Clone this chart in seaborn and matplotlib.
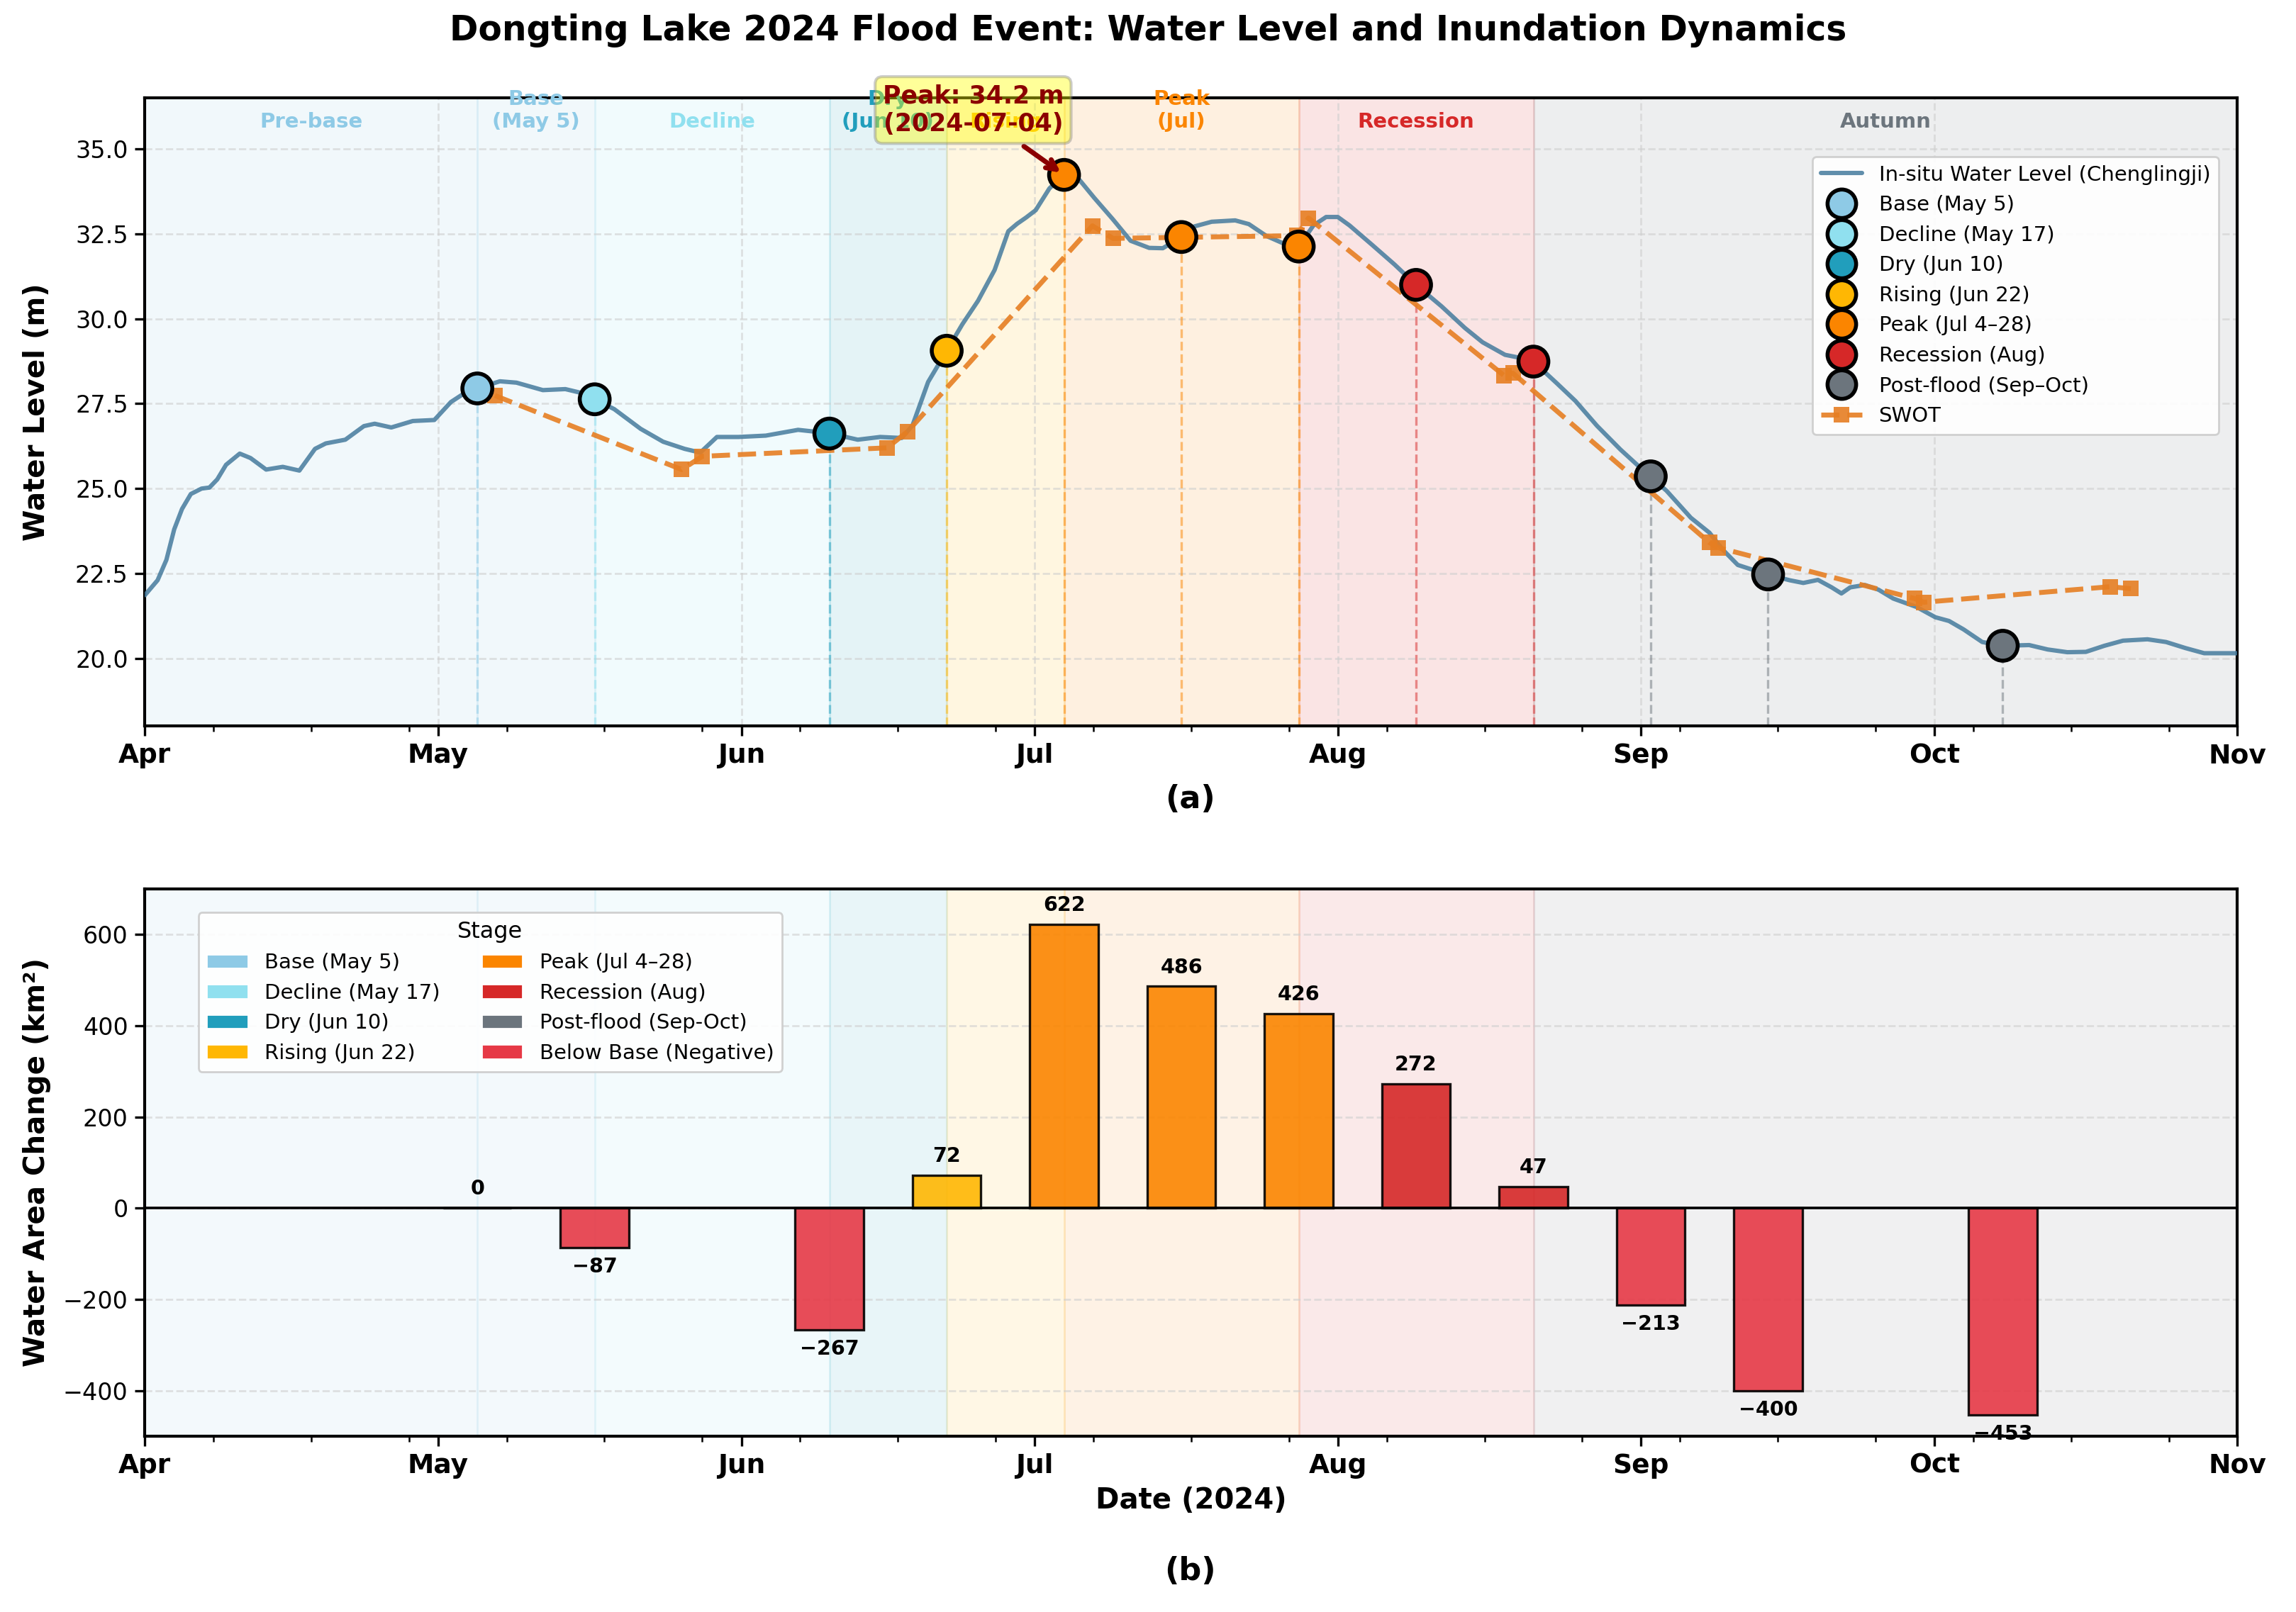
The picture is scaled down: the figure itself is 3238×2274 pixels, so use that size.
import numpy as np
import pandas as pd
import matplotlib
matplotlib.use('Agg')
import matplotlib.pyplot as plt
import matplotlib.dates as mdates
import matplotlib.ticker as mticker
from matplotlib.lines import Line2D
from matplotlib.patches import Patch
import seaborn as sns

sns.set_theme(style='ticks')
plt.rcParams['font.family'] = ['DejaVu Sans']
plt.rcParams.update({'text.color': 'black', 'axes.labelcolor': 'black',
                     'xtick.color': 'black', 'ytick.color': 'black',
                     'axes.edgecolor': 'black'})

START = pd.Timestamp('2024-04-01')
END = pd.Timestamp('2024-11-01')

# ---------------- data ----------------
# In-situ water level at Chenglingji (days since 2024-04-01, metres)
insitu_day = [0, 1.3, 2.2, 3.0, 3.8, 4.7, 5.8, 6.6, 7.4, 8.3, 9.7, 10.8, 12.4, 14.1, 15.8,
              17.4, 18.5, 20.5, 22.4, 23.5, 25.2, 27.4, 29.6, 31.3, 33.0, 34.0, 36.3, 38.0,
              40.7, 43.0, 44.6, 46.0, 48.0, 50.7, 53.0, 55.2, 56.8, 58.5, 60.7, 63.5, 66.8,
              70.0, 72.9, 75.2, 77.4, 78.5, 80.1, 82.0, 83.6, 85.2, 86.9, 88.3, 89.2, 90.1,
              91.1, 92.5, 94.0, 95.5, 97.1, 99.0, 100.8, 102.7, 104.1, 106.0, 107.3, 109.1,
              111.5, 112.9, 114.7, 116.6, 118.0, 119.5, 120.8, 122.0, 123.2, 125.5, 127.8,
              130.0, 132.6, 135.0, 136.8, 139.1, 141.0, 142.0, 144.4, 146.3, 148.5, 150.9,
              153.9, 155.6, 158.1, 160.0, 161.4, 162.9, 165.9, 168.2, 169.6, 171.1, 172.5,
              173.5, 174.4, 175.9, 177.3, 178.8, 181.2, 183.1, 184.5, 186.0, 187.9, 190.0,
              192.7, 194.6, 196.6, 198.5, 200.4, 202.3, 204.8, 206.7, 208.7, 210.6, 214.0]
insitu_level = [21.86, 22.3, 22.9, 23.8, 24.4, 24.84, 25.0, 25.03, 25.27, 25.7, 26.03, 25.9,
                25.56, 25.64, 25.53, 26.17, 26.33, 26.44, 26.84, 26.91, 26.8, 26.99, 27.02,
                27.55, 27.87, 27.95, 28.16, 28.12, 27.9, 27.93, 27.82, 27.63, 27.34, 26.76,
                26.38, 26.17, 26.06, 26.52, 26.52, 26.56, 26.73, 26.63, 26.44, 26.52, 26.49,
                26.86, 28.14, 29.06, 29.84, 30.53, 31.44, 32.58, 32.8, 32.98, 33.2, 33.84,
                34.26, 34.12, 33.56, 32.93, 32.3, 32.09, 32.08, 32.41, 32.72, 32.86, 32.9,
                32.79, 32.44, 32.2, 32.13, 32.75, 33.0, 33.0, 32.75, 32.18, 31.6, 31.0, 30.37,
                29.73, 29.31, 28.94, 28.83, 28.74, 28.1, 27.58, 26.85, 26.15, 25.36, 24.94,
                24.14, 23.7, 23.19, 22.75, 22.47, 22.3, 22.22, 22.31, 22.09, 21.91, 22.09,
                22.16, 22.02, 21.76, 21.51, 21.21, 21.1, 20.85, 20.48, 20.37, 20.39, 20.26,
                20.18, 20.19, 20.37, 20.52, 20.56, 20.48, 20.3, 20.15, 20.15]

# SWOT water level (days since 2024-04-01, metres)
swot_day = [35.8, 54.9, 57.0, 75.9, 78.0, 96.9, 99.0, 117.8, 119.0, 139.0, 139.9,
            160.0, 160.9, 181.0, 181.9, 201.0, 203.1]
swot_level = [27.74, 25.56, 25.95, 26.2, 26.68, 32.74, 32.37, 32.45, 32.97, 28.33, 28.4,
              23.41, 23.26, 21.76, 21.65, 22.11, 22.05]

# Stage observations
stage_dates = ['2024-05-05', '2024-05-17', '2024-06-10', '2024-06-22', '2024-07-04',
               '2024-07-16', '2024-07-28', '2024-08-09', '2024-08-21', '2024-09-02',
               '2024-09-14', '2024-10-08']
stage_levels = [27.95, 27.63, 26.62, 29.06, 34.24, 32.41, 32.13, 31.0, 28.74, 25.36,
                22.47, 20.37]
stage_names = ['Base', 'Decline', 'Dry', 'Rising', 'Peak', 'Peak', 'Peak', 'Recession',
               'Recession', 'Post-flood', 'Post-flood', 'Post-flood']
area_change = [0, -87, -267, 72, 622, 486, 426, 272, 47, -213, -400, -453]

stage_order = ['Base', 'Decline', 'Dry', 'Rising', 'Peak', 'Recession', 'Post-flood']
stage_colors = {'Base': '#8ECAE6', 'Decline': '#90E0EF', 'Dry': '#219EBC',
                'Rising': '#FFB703', 'Peak': '#FB8500', 'Recession': '#D62828',
                'Post-flood': '#6C757D'}
negative_color = '#E63946'
top_legend_labels = ['Base (May 5)', 'Decline (May 17)', 'Dry (Jun 10)', 'Rising (Jun 22)',
                     'Peak (Jul 4–28)', 'Recession (Aug)', 'Post-flood (Sep–Oct)']
bottom_legend_labels = ['Base (May 5)', 'Decline (May 17)', 'Dry (Jun 10)',
                        'Rising (Jun 22)', 'Peak (Jul 4–28)', 'Recession (Aug)',
                        'Post-flood (Sep-Oct)', 'Below Base (Negative)']

# Background zones
zone_bounds = ['2024-04-01', '2024-05-05', '2024-05-17', '2024-06-10', '2024-06-22',
               '2024-07-04', '2024-07-28', '2024-08-21', '2024-11-01']
zone_labels = ['Pre-base', 'Base\n(May 5)', 'Decline', 'Dry\n(Jun 10)', 'Rising',
               'Peak\n(Jul)', 'Recession', 'Autumn']
zone_colors = ['#8ECAE6', '#8ECAE6', '#90E0EF', '#219EBC', '#FFB703', '#FB8500',
               '#D62828', '#6C757D']

# ---------------- frames ----------------
insitu = pd.DataFrame({'date': START + pd.to_timedelta(insitu_day, unit='D'),
                       'level': insitu_level})
swot = pd.DataFrame({'date': START + pd.to_timedelta(swot_day, unit='D'),
                     'level': swot_level})
stages = pd.DataFrame({'date': pd.to_datetime(stage_dates), 'level': stage_levels,
                       'stage': stage_names, 'area': area_change})
zb = pd.to_datetime(zone_bounds)

fig = plt.figure(figsize=(3238 / 200, 2274 / 200), dpi=200)
ax1 = fig.add_axes([0.0631, 0.5495, 0.9114, 0.3896])
ax2 = fig.add_axes([0.0631, 0.109, 0.9114, 0.3397])

YMIN1, YMAX1 = 18.0, 36.5
GRID = dict(linestyle='--', color='#cfcfcf', alpha=0.6, lw=1)


def style_date_axis(ax):
    ax.set_xlim(START, END)
    ax.xaxis.set_major_locator(mdates.MonthLocator())
    ax.xaxis.set_major_formatter(mdates.DateFormatter('%b'))
    ax.xaxis.set_minor_locator(mdates.DayLocator(interval=10))
    ax.tick_params(axis='x', which='major', labelsize=13.5, length=5, width=1.2,
                   colors='black')
    ax.tick_params(axis='x', which='minor', length=3, width=0.9, colors='black')
    ax.tick_params(axis='y', labelsize=12, length=5, width=1.2, colors='black')
    for lab in ax.get_xticklabels():
        lab.set_fontweight('bold')
    for sp in ax.spines.values():
        sp.set_visible(True)
        sp.set_color('black')
        sp.set_linewidth(1.5)


# ---------------- panel (a) ----------------
for i in range(len(zone_labels)):
    ax1.axvspan(zb[i], zb[i + 1], color=zone_colors[i], alpha=0.12, zorder=0)
    mid = zb[i] + (zb[i + 1] - zb[i]) / 2
    ax1.text(mid, 35.5, zone_labels[i], ha='center', va='bottom', fontsize=10.5,
             fontweight='bold', color=zone_colors[i], zorder=3)

sns.lineplot(data=insitu, x='date', y='level', ax=ax1, color='#457B9D', lw=2.2,
             alpha=0.85, zorder=3, label='_nolegend_')

for d, v, s in zip(stages['date'], stages['level'], stages['stage']):
    ax1.vlines(d, YMIN1, v, colors=stage_colors[s], linestyles='--', alpha=0.5, lw=1.2,
               zorder=2)

sns.lineplot(data=swot, x='date', y='level', ax=ax1, color='#E67E22', lw=2.5,
             linestyle='--', marker='s', markersize=8, markeredgewidth=0, alpha=0.9,
             zorder=4, label='_nolegend_')

sns.scatterplot(data=stages, x='date', y='level', hue='stage', palette=stage_colors,
                s=230, edgecolor='black', linewidth=2, ax=ax1, zorder=5, legend=False)

peak_row = stages.iloc[int(np.argmax(stages['level']))]
ax1.annotate(f"Peak: {peak_row['level']:.1f} m\n({peak_row['date']:%Y-%m-%d})",
             xy=(peak_row['date'], peak_row['level']),
             xytext=(peak_row['date'] - pd.Timedelta(days=9.3), 36.15),
             ha='center', va='center', fontsize=12.5, fontweight='bold', color='#8B0000',
             bbox=dict(boxstyle='round,pad=0.3', fc='yellow', ec='gray', alpha=0.4, lw=1.5),
             arrowprops=dict(arrowstyle='->', color='#8B0000', lw=2.5),
             annotation_clip=False, zorder=10)

ax1.set_ylim(YMIN1, YMAX1)
ax1.yaxis.set_major_locator(mticker.MultipleLocator(2.5))
ax1.yaxis.set_major_formatter(mticker.FormatStrFormatter('%.1f'))
ax1.grid(True, which='major', **GRID)
style_date_axis(ax1)
ax1.set_xlabel('')
ax1.set_ylabel('Water Level (m)', fontsize=14.5, fontweight='bold')
ax1.yaxis.set_label_coords(-0.045, 0.5)

handles1 = [Line2D([], [], color='#457B9D', lw=2.2, alpha=0.85,
                   label='In-situ Water Level (Chenglingji)')]
for st, lab in zip(stage_order, top_legend_labels):
    handles1.append(Line2D([], [], marker='o', ls='none', markersize=14.5,
                           markerfacecolor=stage_colors[st], markeredgecolor='black',
                           markeredgewidth=2, label=lab))
handles1.append(Line2D([], [], color='#E67E22', lw=2.5, ls='--', marker='s', markersize=8,
                       markeredgewidth=0, alpha=0.9, label='SWOT'))
ax1.legend(handles=handles1, loc='upper right', bbox_to_anchor=(0.991, 0.907),
           borderaxespad=0, fontsize=10.5, framealpha=0.9, edgecolor='#cccccc',
           labelspacing=0.5, handlelength=2.0)

fig.text(0.5185, 0.504, '(a)', ha='center', va='center', fontsize=16, fontweight='bold')

# ---------------- panel (b) ----------------
for i in range(len(zone_labels)):
    ax2.axvspan(zb[i], zb[i + 1], color=zone_colors[i], alpha=0.1, zorder=0)

bar_colors = [negative_color if a < 0 else stage_colors[s]
              for a, s in zip(stages['area'], stages['stage'])]
ax2.bar(stages['date'], stages['area'], width=7, color=bar_colors, edgecolor='black',
        linewidth=1.2, alpha=0.9, zorder=3)
for d, a in zip(stages['date'], stages['area']):
    txt = f"{a:.0f}".replace('-', '\u2212')
    if a >= 0:
        ax2.text(d, a + 20, txt, ha='center', va='bottom', fontsize=10.3,
                 fontweight='bold', zorder=4)
    else:
        ax2.text(d, a - 20, txt, ha='center', va='top', fontsize=10.3,
                 fontweight='bold', zorder=4)
ax2.axhline(0, color='black', lw=1.3, zorder=3)

ax2.set_ylim(-500, 700)
ax2.yaxis.set_major_locator(mticker.MultipleLocator(200))
ax2.grid(True, axis='y', **GRID)
ax2.grid(False, axis='x')
style_date_axis(ax2)
ax2.set_ylabel('Water Area Change (km²)', fontsize=14.5, fontweight='bold')
ax2.yaxis.set_label_coords(-0.045, 0.5)
ax2.set_xlabel('Date (2024)', fontsize=14.5, fontweight='bold', labelpad=4)

handles2 = [Patch(facecolor=stage_colors[st], label=lab)
            for st, lab in zip(stage_order, bottom_legend_labels[:7])]
handles2.append(Patch(facecolor=negative_color, label=bottom_legend_labels[7]))
ax2.legend(handles=handles2, title='Stage', ncol=2, loc='upper left',
           bbox_to_anchor=(0.0255, 0.957), borderaxespad=0, fontsize=10.5,
           title_fontsize=11.5, framealpha=0.9, edgecolor='#cccccc', columnspacing=2.0)

fig.text(0.5185, 0.0254, '(b)', ha='center', va='center', fontsize=16, fontweight='bold')

fig.text(0.5, 0.981, 'Dongting Lake 2024 Flood Event: Water Level and Inundation Dynamics',
         ha='center', va='center', fontsize=17.5, fontweight='bold')

fig.savefig('out.png', dpi=200)
